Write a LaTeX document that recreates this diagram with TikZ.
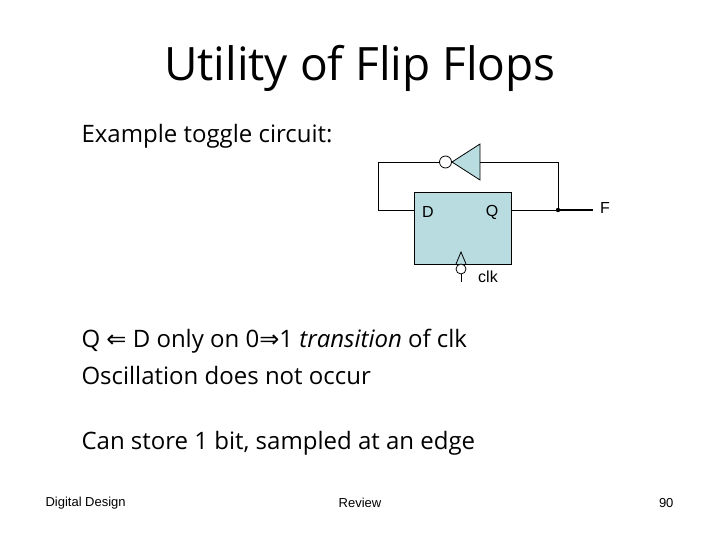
\documentclass[tikz,border=0pt]{standalone}
\usepackage{fontspec}
\setmainfont{Open Sans}
\newfontfamily\arial{Liberation Sans}
\newfontfamily\dejavu{DejaVu Sans}
\definecolor{boxfill}{RGB}{184,220,224}
\begin{document}
\begin{tikzpicture}[x=1pt,y=-1pt,
  wire/.style={black,line width=0.8pt},
  body/.style={anchor=west,font=\fontsize{24}{28}\selectfont},
  foot/.style={font=\arial\fontsize{13}{15}\selectfont},
  lab/.style={font=\arial\fontsize{16}{18}\selectfont}]
\useasboundingbox (0,0) rectangle (720,540);
\node (title) at (360,68) {\fontsize{46}{52}\selectfont Utility of Flip Flops};
\node[body] (ex) at (78,136) {Example toggle circuit:};
% flip-flop
\draw[wire,fill=boxfill] (414,192) rectangle (511,264);
\node[lab] (d) at (428,212) {D};
\node[lab] (q) at (492,212) {Q};
% inverter
\draw[wire,fill=boxfill] (480,144) -- (480,180) -- (452,162) -- cycle;
\draw[wire,fill=white] (445.5,162) circle (6);
\coordinate (a) at (378,162);
\coordinate (b) at (378,210);
\coordinate (j) at (558,210);
\coordinate (c) at (558,162);
\coordinate (f) at (593,210);
\draw[wire] (439.5,162) -- (a) -- (b) -- (414,210);
\draw[wire] (511,210) -- (j) -- (c) -- (480,162);
\draw[black,line width=1.6pt] (j) -- (f);
\fill (j) circle (2.2);
\node[lab] (fl) at (605,208) {F};
% clock
\draw[wire] (456,264) -- (461,252) -- (466,264);
\draw[wire,fill=white] (461,269) circle (5);
\draw[wire] (461,274) -- (461,282);
\node[lab] (clk) at (488,277) {clk};
\node[body] (l1) at (78,341) {Q {\dejavu\fontsize{24}{28}\selectfont ⇐} D only on 0{\dejavu\fontsize{24}{28}\selectfont ⇒}1 \textit{transition} of clk};
\node[body] (l2) at (78,375) {Oscillation does not occur};
\node[body] (l3) at (78,443) {Can store 1 bit, sampled at an edge};
\node[foot,anchor=west] (f1) at (42,503) {Digital Design};
\node[foot] (f2) at (360,503) {Review};
\node[foot,anchor=east] (f3) at (677,503) {90};
\end{tikzpicture}
\end{document}
